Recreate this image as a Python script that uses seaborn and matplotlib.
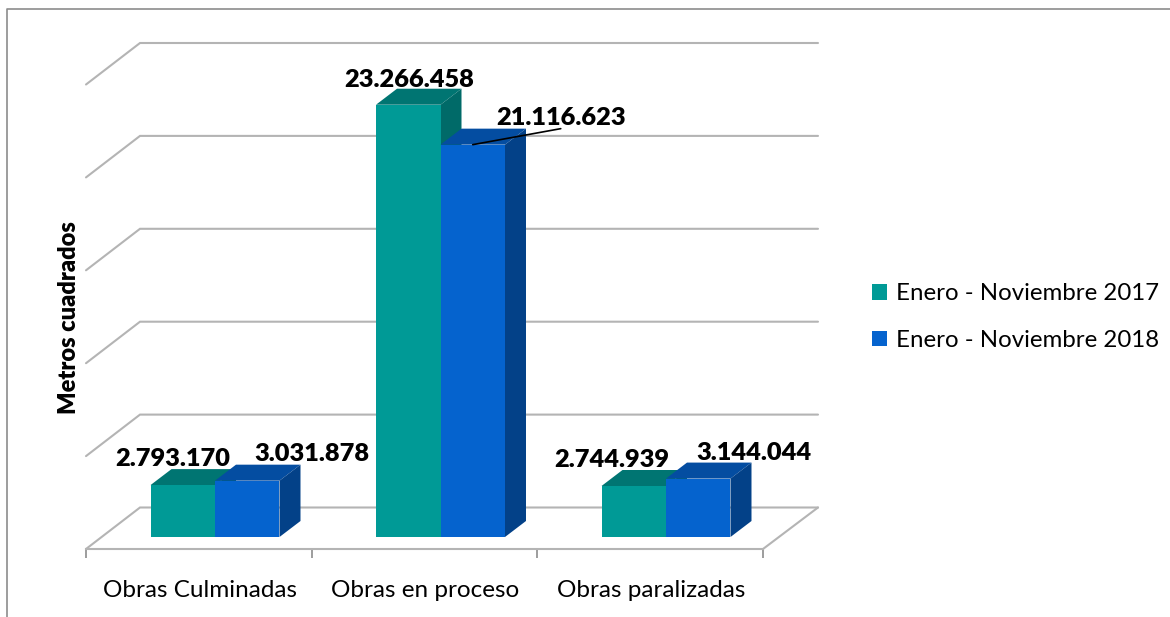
import matplotlib.pyplot as plt
import matplotlib.colors as mcolors
import pandas as pd
import seaborn as sns
from matplotlib.lines import Line2D
from matplotlib.patches import Polygon

categories = ['Obras Culminadas', 'Obras en proceso', 'Obras paralizadas']
periods = ['Enero - Noviembre 2017', 'Enero - Noviembre 2018']
values_2017 = [2793170, 23266458, 2744939]
values_2018 = [3031878, 21116623, 3144044]
y_ticks = [0, 5000000, 10000000, 15000000, 20000000, 25000000]
palette = ['#009A96', '#0563CE']

# label offsets from top centre of each bar, in pixels
label_offsets = [(-10, 26), (1, 25), (-22, 26), (65, 27), (88, 27), (56, 26)]

df = pd.DataFrame({
    'obra': categories * 2,
    'periodo': [periods[0]] * 3 + [periods[1]] * 3,
    'valor': values_2017 + values_2018,
})

W, H = 1170, 617
CAT_PX = 225.5     # px between categories
VAL_PX = 18.58 / 1e6     # px per square metre
X0_PX, Y0_PX = 215, 537  # where category 0 / value 0 fall


def px_x(n):
    return n / CAT_PX


def px_y(n):
    return n / VAL_PX


sns.set_theme(style='white')
plt.rcParams['font.family'] = ['Lato', 'DejaVu Sans']

fig = plt.figure(figsize=(W / 100, H / 100), dpi=100)
ax = fig.add_axes([0, 0, 1, 1])
ax.patch.set_alpha(0)

sns.barplot(data=df, x='obra', y='valor', hue='periodo', order=categories,
            hue_order=periods, palette=palette, width=0.572, gap=0,
            saturation=1, linewidth=0, edgecolor='none', ax=ax)

ax.set_xlim(px_x(-X0_PX), px_x(W - X0_PX))
ax.set_ylim(px_y(Y0_PX - H), px_y(Y0_PX))

# back wall and floor
wall = '#B4B4B4'
left_back, right_back = px_x(140 - X0_PX), px_x(818 - X0_PX)
left_front, right_front = px_x(86 - X0_PX), px_x(763 - X0_PX)
lift = px_y(29.5)
drop = px_y(41.5)
for tick in y_ticks:
    y = tick + lift
    ax.plot([left_front, left_back, right_back], [y - drop, y, y],
            color=wall, lw=1.5, zorder=1, solid_joinstyle='miter')
floor_y = lift - drop
ax.plot([right_back, right_front], [lift, floor_y], color=wall, lw=1.5, zorder=1)

# 3d sides and tops on the seaborn bars
depth_x, depth_y = px_x(21), px_y(16)
shade_top = [0.76, 0.78]
shade_side = [0.69, 0.66]
for i, container in enumerate(ax.containers):
    rgb = mcolors.to_rgb(palette[i])
    top_col = tuple(c * shade_top[i] for c in rgb)
    side_col = tuple(c * shade_side[i] for c in rgb)
    for bar in container:
        x0, x1 = bar.get_x(), bar.get_x() + bar.get_width()
        h = bar.get_height()
        z = 3 + i * 2
        ax.add_patch(Polygon([(x0, h), (x1, h), (x1 + depth_x, h + depth_y), (x0 + depth_x, h + depth_y)],
                             facecolor=top_col, edgecolor='none', zorder=z))
        ax.add_patch(Polygon([(x1, 0), (x1 + depth_x, depth_y), (x1 + depth_x, h + depth_y), (x1, h)],
                             facecolor=side_col, edgecolor='none', zorder=z))
        bar.set_zorder(z + 1)

# data labels
bars = list(ax.containers[0]) + list(ax.containers[1])
all_values = values_2017 + values_2018
for n, (bar, val, off) in enumerate(zip(bars, all_values, label_offsets)):
    text = f'{val:,}'.replace(',', '.')
    xy = (bar.get_x() + bar.get_width() / 2, val)
    arrow = None
    if val == values_2018[1]:
        arrow = dict(arrowstyle='-', color='black', lw=1.2, shrinkA=0, shrinkB=0,
                     relpos=(0.5, 0), patchA=None)
    ax.annotate(text, xy=xy, xytext=off, textcoords='offset pixels', ha='center',
                va='center', fontsize=18.3, fontweight='heavy', color='black',
                arrowprops=arrow, zorder=10)

# axis
ax.set_yticks([])
ax.set_ylabel('Metros cuadrados', fontsize=17, fontweight='heavy', color='black')
ax.yaxis.set_label_coords(80 / W, 1 - 318 / H)
ax.set_xlabel('')
for side in ['top', 'left', 'right']:
    ax.spines[side].set_visible(False)
ax.spines['bottom'].set_position(('data', floor_y))
ax.spines['bottom'].set_color(wall)
ax.spines['bottom'].set_linewidth(1.5)
ax.spines['bottom'].set_bounds(left_front, right_front)
ax.set_xticks([i - px_x(15) for i in range(3)], categories)
ax.tick_params(axis='x', which='major', length=0, pad=22.5, labelsize=17.5, labelcolor='black')
ax.set_xticks([left_front + i * (right_front - left_front) / 3 for i in range(4)], minor=True)
ax.tick_params(axis='x', which='minor', length=6.5, width=1.2, color='#8C8C8C', bottom=True)

ax.legend(loc='center left', bbox_to_anchor=(872 / W, 1 - 317 / H), frameon=False,
          fontsize=17.3, handlelength=0.625, handleheight=0.625, handletextpad=0.375,
          labelspacing=1.07, borderpad=0, borderaxespad=0, labelcolor='black')

# chart frame, open at right and bottom
fig.add_artist(Line2D([6.5 / W, 6.5 / W, 1], [0, 1 - 8.5 / H, 1 - 8.5 / H],
                      color='#8C8C8C', lw=1.2, transform=fig.transFigure))

fig.savefig('out.png', dpi=100)
